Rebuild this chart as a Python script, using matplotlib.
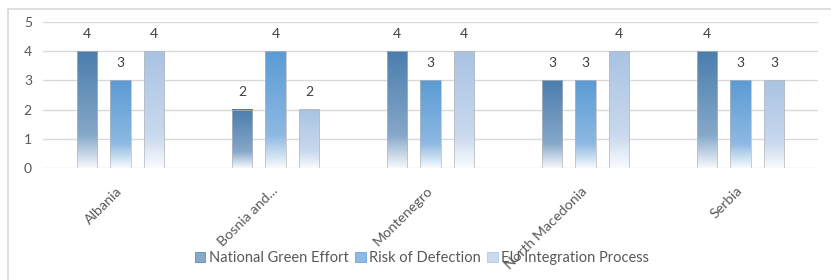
import numpy as np
import matplotlib.pyplot as plt
from matplotlib.colors import to_rgb
from matplotlib.patches import Rectangle, Patch

categories = ['Albania', 'Bosnia and...', 'Montenegro', 'North Macedonia', 'Serbia']
national_green = [4, 2, 4, 3, 4]
risk_defection = [3, 4, 3, 3, 3]
eu_integration = [4, 2, 4, 4, 3]
series_names = ['National Green Effort', 'Risk of Defection', 'EU Integration Process']

# top colour, mid colour, bottom colour for the fade
grads = [
    ('#4A7DAE', '#86A8C9', '#F6F8FB'),
    ('#5A9BD5', '#8DB9E2', '#F7FAFD'),
    ('#A9C3E3', '#C9D9EE', '#F9FBFD'),
]

plt.rcParams['font.family'] = ['Lato', 'DejaVu Sans']
txt = '#595959'
fs = 10


def grad_image(c0, c1, c2, n=200):
    t = np.linspace(0, 1, n)[:, None]  # 0 = top
    a, b, c = np.array(to_rgb(c0)), np.array(to_rgb(c1)), np.array(to_rgb(c2))
    img = np.where(t < 0.72, a + (b - a) * (t / 0.72), b + (c - b) * ((t - 0.72) / 0.28))
    return img[:, None, :]


fig = plt.figure(figsize=(8.31, 2.8), dpi=100)
# chart border: only left and top edges fall inside the picture
fig.patches.append(Rectangle((8 / 831, -0.05), 1.0, 1 - 9 / 280 + 0.05, transform=fig.transFigure,
                             fill=False, edgecolor='#D9D9D9', linewidth=1.2))
ax = fig.add_axes([43 / 831, 1 - 168 / 280, 775 / 831, 146 / 280])

x = np.arange(len(categories))
w = 0.13
step = 0.216
data = [national_green, risk_defection, eu_integration]
for i, vals in enumerate(data):
    img = grad_image(*grads[i])
    for xi, v in zip(x, vals):
        left = xi + (i - 1) * step - w / 2
        ax.imshow(img, extent=[left, left + w, 0, v], aspect='auto', zorder=3, interpolation='bilinear')
        ax.add_patch(Rectangle((left, 0), w, v, fill=False, edgecolor='#B8B8B8', linewidth=0.5, zorder=4))
        ax.annotate(str(v), (left + w / 2, v), xytext=(0, 8), textcoords='offset points',
                    ha='center', va='bottom', fontsize=fs, color='#404040')

ax.set_xlim(-0.5, len(categories) - 0.5)
ax.set_ylim(0, 5)
ax.set_yticks(range(6))
ax.set_yticklabels([str(v) for v in range(6)], fontsize=fs, color=txt)
ax.yaxis.grid(True, color='#D9D9D9', linewidth=1)
ax.set_axisbelow(True)
for s in ax.spines.values():
    s.set_visible(False)
ax.tick_params(axis='both', length=0)
ax.tick_params(axis='y', pad=8)
ax.set_xticks(x)
ax.set_xticklabels(categories, rotation=45, ha='right', va='center', rotation_mode='anchor',
                   fontsize=10.3, color=txt)
ax.tick_params(axis='x', pad=15)

handles = [Patch(facecolor=g[1], edgecolor=g[0], linewidth=0.5) for g in grads]
fig.legend(handles, series_names, loc='center', bbox_to_anchor=(422 / 831, 1 - 258 / 280), ncol=3,
           frameon=False, fontsize=10.5, handlelength=0.75, handleheight=0.75, handletextpad=0.25,
           columnspacing=0.4, labelcolor=txt)

fig.savefig('out.png', dpi=100)
